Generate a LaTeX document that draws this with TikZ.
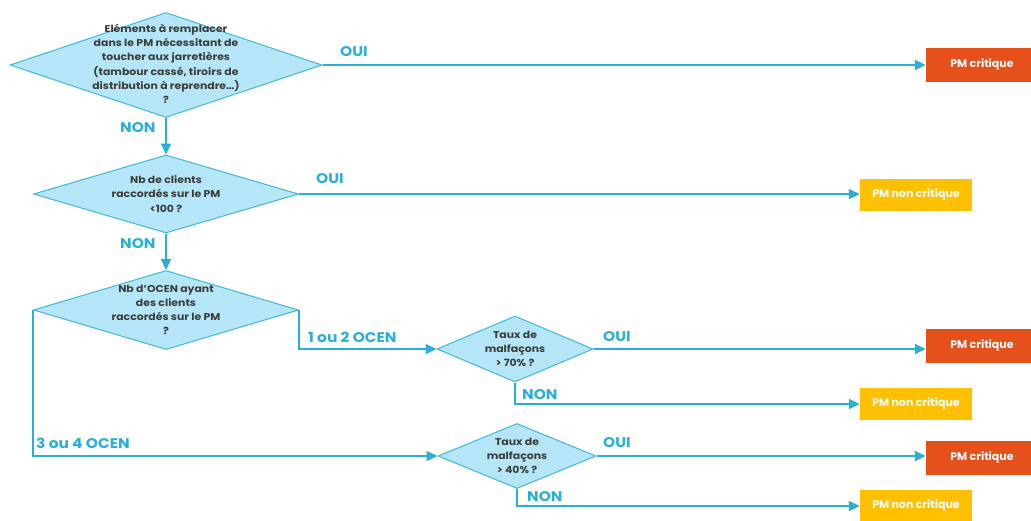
\documentclass[tikz,border=0pt]{standalone}
\usepackage{fontspec}
\setmainfont{Poppins}
\newfontfamily\widefont{Poppins}[FakeStretch=1.1]
\usetikzlibrary{shapes.geometric,arrows.meta}
\definecolor{lc}{HTML}{2AAFD8}
\definecolor{dfill}{HTML}{B5E6F7}
\definecolor{dborder}{HTML}{3DB8DD}
\definecolor{crit}{HTML}{E5501B}
\definecolor{ncrit}{HTML}{FFC000}
\definecolor{dtext}{HTML}{3C3C3C}
\begin{document}
\begin{tikzpicture}[x=1pt,y=-1pt,
  dia/.style={diamond, draw=dborder, fill=dfill, line width=1pt, inner sep=0pt, aspect=1},
  dtxt/.style={align=center, text=dtext, font=\widefont\fontsize{9.9}{14.2}\selectfont\bfseries, inner sep=0pt},
  critbox/.style={rectangle, fill=crit, text=white, minimum width=112pt, minimum height=34pt, inner sep=0pt, font=\fontsize{11}{12}\selectfont\bfseries},
  ncritbox/.style={rectangle, fill=ncrit, text=white, minimum width=112pt, minimum height=32pt, inner sep=0pt, font=\fontsize{11}{12}\selectfont\bfseries},
  conn/.style={draw=lc, line width=1.8pt, -{Triangle[length=11pt,width=10pt]}},
  lbl/.style={text=lc, font=\widefont\fontsize{14}{15}\selectfont\bfseries, inner sep=0pt, anchor=west}
]
\useasboundingbox (0,0) rectangle (1031,520);
\clip (0,0) rectangle (1031,520);
\fill[white] (0,0) rectangle (1031,520);

% diamonds
\node[dia, minimum width=312pt, minimum height=105pt] (d1) at (166,65) {};
\node[dtxt] (t1) at (166,64) {Eléments à remplacer\\dans le PM nécessitant de\\toucher aux jarretières\\(tambour cassé, tiroirs de\\distribution à reprendre…)\\?};
\node[dia, minimum width=265pt, minimum height=78pt] (d2) at (166,194) {};
\node[dtxt] (t2) at (166,194) {Nb de clients\\raccordés sur le PM\\<100 ?};
\node[dia, minimum width=265pt, minimum height=79pt] (d3) at (166,310) {};
\node[dtxt] (t3) at (166,310) {Nb d’OCEN ayant\\des clients\\raccordés sur le PM\\?};
\node[dia, minimum width=156pt, minimum height=66pt] (d4) at (515,349) {};
\node[dtxt] (t4) at (515,349) {Taux de\\malfaçons\\> 70\% ?};
\node[dia, minimum width=158pt, minimum height=65pt] (d5) at (517,456) {};
\node[dtxt] (t5) at (517,456) {Taux de\\malfaçons\\> 40\% ?};

% result boxes
\node[critbox] (c1) at (982,65) {PM critique};
\node[ncritbox] (n2) at (916,195) {PM non critique};
\node[critbox] (c4) at (982,346) {PM critique};
\node[ncritbox] (n4) at (916,404) {PM non critique};
\node[critbox] (c5) at (982,458) {PM critique};
\node[ncritbox] (n5) at (916,506) {PM non critique};

% connectors
\draw[conn] (d1.east) -- (d1.east -| c1.west);
\draw[conn] (d1.south) -- (d2.north);
\draw[conn] (d2.east) -- (d2.east -| n2.west);
\draw[conn] (d2.south) -- (d3.north);
\draw[conn] (d3.east) |- (d4.west);
\draw[conn] (d3.west) |- (d5.west);
\draw[conn] (d4.east) -- (d4.east -| c4.west);
\draw[conn] (d4.south) |- (n4.west);
\draw[conn] (d5.east) -- (d5.east -| c5.west);
\draw[conn] (d5.south) |- (n5.west);

% labels
\node[lbl] (l1) at (340,52) {OUI};
\node[lbl] (l2) at (120,128) {NON};
\node[lbl] (l3) at (316,179) {OUI};
\node[lbl] (l4) at (120,244) {NON};
\node[lbl] (l5) at (308,337) {1 ou 2 OCEN};
\node[lbl] (l6) at (36,443) {3 ou 4 OCEN};
\node[lbl] (l7) at (603,337) {OUI};
\node[lbl] (l8) at (522,395) {NON};
\node[lbl] (l9) at (603,443) {OUI};
\node[lbl] (l10) at (527,497) {NON};
\end{tikzpicture}
\end{document}
